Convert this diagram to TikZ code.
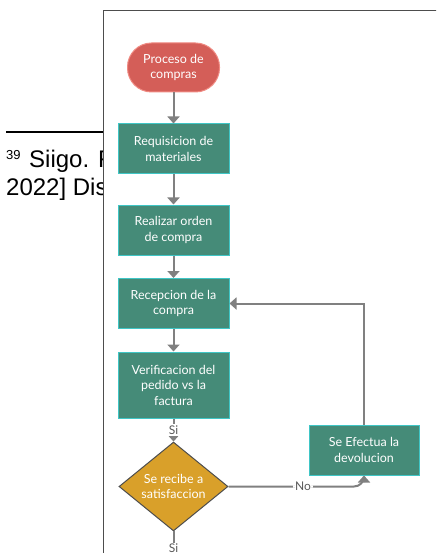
\documentclass[tikz,border=0pt]{standalone}
\usepackage{fontspec}
\setmainfont{Lato}
\newfontfamily\arialf{Liberation Sans}
\usetikzlibrary{arrows.meta,shapes.geometric}
\definecolor{teal1}{HTML}{458B78}
\definecolor{tealb}{HTML}{3FC6C6}
\definecolor{red1}{HTML}{D45E58}
\definecolor{redb}{HTML}{F08A82}
\definecolor{gold1}{HTML}{D9A02A}
\definecolor{flowc}{HTML}{808080}
\definecolor{framec}{HTML}{4D4D4D}
\tikzset{
  boxst/.style={draw=tealb, line width=1pt, fill=teal1, text=white, minimum width=111pt, minimum height=50pt, inner sep=2pt, align=center, font=\fontsize{12.5}{15.5}\selectfont},
  startst/.style={draw=redb, line width=1pt, fill=red1, text=white, minimum width=92pt, minimum height=49pt, rounded corners=24pt, align=center, font=\fontsize{12.5}{15.5}\selectfont},
  decst/.style={diamond, draw=framec, line width=1pt, fill=gold1, text=white, minimum width=109pt, minimum height=72pt, inner sep=0pt, align=center, font=\fontsize{12.5}{15.5}\selectfont},
  flow/.style={draw=flowc, line width=2pt, -{Triangle[width=12pt,length=7pt]}},
  flowline/.style={draw=flowc, line width=2pt},
  lbl/.style={fill=white, text=black!65, inner sep=2pt, font=\fontsize{12}{13}\selectfont}
}
\begin{document}
\begin{tikzpicture}[x=1pt,y=-1pt]
\useasboundingbox (0,0) rectangle (436,553);
\clip (0,0) rectangle (436,553);
% background page text
\draw[black, line width=1.2pt] (6,132) -- (104,132);
\node[anchor=base west, inner sep=0pt, font=\arialf\fontsize{13}{13}\selectfont] (fnum) at (6,159.5) {39};
\node[anchor=base west, inner sep=0pt, font=\arialf\fontsize{24}{28}\selectfont] (fl1) at (29,168) {Siigo. F};
\node[anchor=base west, inner sep=0pt, font=\arialf\fontsize{24}{28}\selectfont] (fl2) at (6,196) {2022] Dis};
% frame
\draw[framec, line width=1pt, fill=white] (103.5,10.5) rectangle (460,580);
% nodes
\node[startst] (start) at (173.5,67.5) {Proceso de\\compras};
\node[boxst] (b1) at (173.5,149) {Requisicion de\\materiales};
\node[boxst] (b2) at (173.5,230) {Realizar orden\\de compra};
\node[boxst] (b3) at (173.5,303.5) {Recepcion de la\\compra};
\node[boxst, minimum height=66pt] (b4) at (173.5,385) {Verificacion del\\pedido vs la\\factura};
\node[decst] (dia) at (173.5,486.5) {Se recibe a\\satisfaccion};
\node[boxst, minimum width=110pt] (b5) at (364,450) {Se Efectua la\\devolucion};
\coordinate (bot) at (173.5,570);
% connectors
\draw[flow] (start) -- (b1);
\draw[flow] (b1) -- (b2);
\draw[flow] (b2) -- (b3);
\draw[flow] (b3) -- (b4);
\draw[flow] (b4) -- node[lbl] {Si} (dia);
\draw[flowline] (dia.south) -- node[lbl, inner sep=1pt, pos=0.44] {Si} (bot);
\draw[flow, rounded corners=10pt] (dia.east) -- node[lbl, pos=0.55] {No} (b5.south |- dia.east) -- (b5.south);
\draw[flow] (b5.north) |- (b3.east);
\end{tikzpicture}
\end{document}
